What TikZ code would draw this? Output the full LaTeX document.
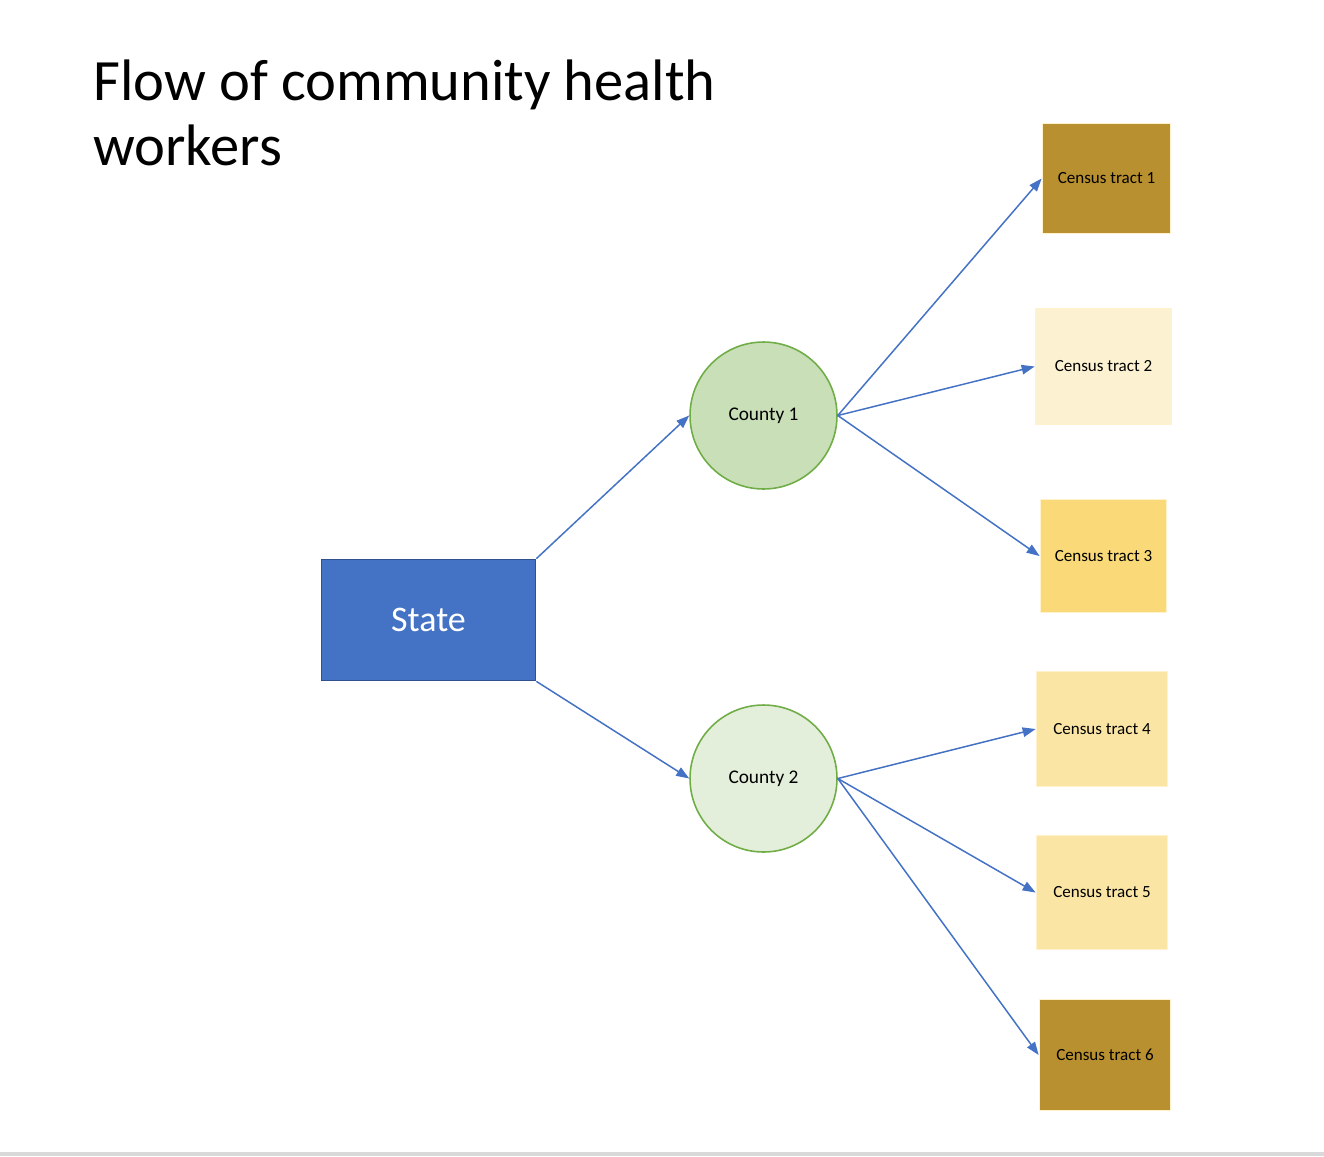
\documentclass[tikz,border=0pt]{standalone}
\usepackage{fontspec}
\setmainfont{Carlito}
\usetikzlibrary{positioning, arrows.meta}

\definecolor{stateblue}{HTML}{4472C4}
\definecolor{stateedge}{HTML}{2F528F}
\definecolor{countyedge}{HTML}{70AD47}
\definecolor{countyA}{HTML}{C9DFB8}
\definecolor{countyB}{HTML}{E3EFDA}
\definecolor{tractedge}{HTML}{FFF2CC}
\definecolor{golddark}{HTML}{B99030}
\definecolor{goldpale}{HTML}{FCF2D1}
\definecolor{goldmid}{HTML}{F9D978}
\definecolor{goldlight}{HTML}{FAE5A5}
\definecolor{stripgray}{HTML}{D9D9D9}

\begin{document}
\begin{tikzpicture}[
    x=0.02cm, y=-0.02cm,
    title/.style = {align=left, inner sep=0pt, font=\fontsize{33.3}{36.9}\selectfont},
    state/.style = {rectangle, draw=stateedge, fill=stateblue, line width=1pt, minimum width=4.28cm, minimum height=2.42cm, text=white, font=\fontsize{20.5}{24}\selectfont},
    county/.style = {circle, draw=countyedge, line width=0.9pt, minimum size=2.94cm, inner sep=0pt, font=\fontsize{11}{13}\selectfont},
    tract/.style = {rectangle, draw=tractedge, line width=1pt, inner sep=0pt, font=\fontsize{9.7}{11}\selectfont},
    arrow/.style = {-{Triangle[length=2.6mm, width=1.9mm]}, draw=stateblue, line width=0.85pt}
]
    \useasboundingbox (0,0) rectangle (1324,1156);
    \fill[stripgray] (0,1152) rectangle (1324,1156);

    \node[title, anchor=base west] (TITLE) at (93,165) {Flow of community health\\workers};

    \node[state] (ST) at (428.5,620) {State};

    \node[county, fill=countyA] (C1) at (763.5,415.5) {County 1};
    \node[county, fill=countyB] (C2) at (763.5,778.5) {County 2};

    \node[tract, fill=golddark, minimum width=2.56cm, minimum height=2.2cm] (T1) at (1106.5,178.5) {Census tract 1};
    \node[tract, fill=goldpale, minimum width=2.72cm, minimum height=2.32cm] (T2) at (1103.5,366.5) {Census tract 2};
    \node[tract, fill=goldmid, minimum width=2.52cm, minimum height=2.26cm] (T3) at (1103.5,556) {Census tract 3};
    \node[tract, fill=goldlight, minimum width=2.62cm, minimum height=2.3cm] (T4) at (1102,729) {Census tract 4};
    \node[tract, fill=goldlight, minimum width=2.62cm, minimum height=2.28cm] (T5) at (1102,892.5) {Census tract 5};
    \node[tract, fill=golddark, minimum width=2.62cm, minimum height=2.22cm] (T6) at (1105,1055) {Census tract 6};

    \draw[arrow] (ST.north east) -- (C1.west);
    \draw[arrow] (ST.south east) -- (C2.west);

    \draw[arrow] (C1.east) -- (T1.west);
    \draw[arrow] (C1.east) -- (T2.west);
    \draw[arrow] (C1.east) -- (T3.west);

    \draw[arrow] (C2.east) -- (T4.west);
    \draw[arrow] (C2.east) -- (T5.west);
    \draw[arrow] (C2.east) -- (T6.west);
\end{tikzpicture}
\end{document}
